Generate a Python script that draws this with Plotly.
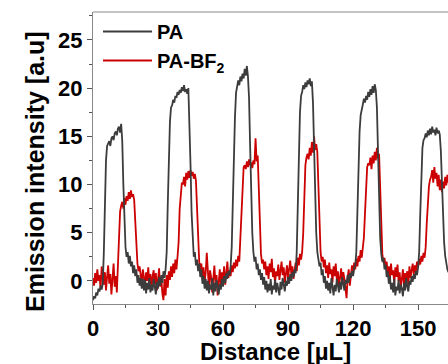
import numpy as np
import plotly.graph_objects as go

step = 0.5  # sampling interval of the traces (µL)

pa = [
    -2.0, -1.6, -1.8, -1.2, -1.5, -0.8, -1.1, -0.5, -0.9, -0.3,
    3, 8, 12.5, 14.0,
    14.2, 14.5, 14.0, 14.8, 15.0, 14.6, 15.3, 15.5, 15.1, 15.8, 16.0, 15.4, 16.3,
    14.5, 10, 6, 3.5, 2.5, 3.0, 1.8, 2.6, 1.5, 2.0, 0.8, 1.6, 0.5, 1.2, -0.2, 0.6, -0.5, 0.3, -0.8, 0.2,
    -1.0, 0.1, -1.3, -0.2, -0.9, 0.3, -1.2, -0.4, -1.0, 0.2, -0.6, -1.4, -0.1, -0.8, 0.4, -0.5, 0.6, -0.2, 1.0, 0.3,
    1.2, 3, 8, 13, 16.5, 18.0,
    18.2, 18.8, 18.5, 19.2, 19.0, 19.6, 19.3, 19.8, 19.5, 20.1, 19.7, 20.3, 19.6, 19.9, 19.4, 20.0,
    17, 12, 7, 4, 2.5, 3.0, 1.6, 2.2, 1.0, 1.8, 0.4, 1.2, -0.3, 0.5, -0.8, 0.2,
    -1.0, 0.0, -1.3, -0.4, -0.9, 0.3, -1.5, -0.2, -1.1, 0.1, -0.7, -1.4, -0.3, -0.9, 0.2, -0.6, 0.5, -0.2, 0.8, 0.2, 1.0, 0.6, 1.5,
    3.5, 8, 13, 17, 19.5,
    20.0, 20.8, 20.3, 21.2, 20.7, 21.5, 21.0, 22.0, 21.3, 22.3, 21.2,
    19, 14, 9, 5, 3, 2.0, 2.5, 1.2, 1.8, 0.6, 1.2, 0.1, 0.8, -0.4, 0.4, -0.9, 0.0,
    -1.2, -0.3, -1.0, 0.2, -1.4, -0.5, -0.9, 0.1, -1.2, -0.2, -0.8, -1.5, -0.1, -0.9, 0.3, -0.6, -1.1, 0.0, -0.5, 0.4,
    -0.3, 0.7, 0.0, 0.9, 0.4, 1.2, 0.8,
    3, 8, 13.5, 17.5, 19.2,
    19.6, 20.3, 19.9, 20.6, 20.1, 20.8, 20.4, 21.0, 20.2, 20.7,
    18.5, 14, 9, 5, 3, 2.2, 1.5, 1.9, 0.6, 1.2, -0.2, 0.5, -0.8, 0.0,
    -1.0, -0.2, -1.3, 0.3, -0.8, -1.5, -0.4, -1.1, 0.2, -0.7, -1.2, -0.1, -0.9, 0.4, -0.5, -1.0, 0.1, -0.3, 0.6, -0.2,
    0.8, 0.3, 1.0, 0.5, 1.3, 1.6,
    3, 7, 12, 15.5, 17.2, 18.0,
    18.3, 18.9, 18.5, 19.2, 18.8, 19.6, 19.1, 19.9, 19.3, 20.2, 19.5, 20.4, 19.8,
    18, 13, 8, 4.5, 2.8, 2.0, 2.4, 1.2, 1.7, 0.4, 1.0, -0.3, 0.5, -0.9,
    -0.2, -1.2, 0.2, -1.5, -0.6, -1.0, 0.1, -1.3, -0.4, -0.8, -1.6, -0.2, -1.0, 0.3, -0.6, -1.1, 0.0, -0.4, 0.5, -0.1,
    0.7, 0.2, 1.0, 0.6, 1.4,
    3, 7, 11, 13.8, 14.6,
    14.8, 15.3, 14.9, 15.6, 15.1, 15.8, 15.2, 16.0, 15.4, 15.7, 15.1, 15.9, 15.3, 15.6, 15.2,
    13.5, 10, 6.5, 4, 2.6, 1.8, 1.2, 0.9, 1.5, 0.6,
]

pa_bf2 = [
    0.3, -0.5, 0.8, -0.2, 1.2, 0.0, 0.6, -0.8, 1.5, 0.2, -0.4, 0.9, -1.0, 0.4, 1.6, -0.3, 0.7, -1.4, 0.2, 1.8, -0.6, 0.5, -1.2,
    2, 5, 7.2, 7.8,
    8.2, 7.5, 8.6, 7.9, 8.8, 8.3, 9.2, 8.5, 9.4, 8.7, 9.0, 8.4,
    6, 3, 1.8, 1.0, 1.5,
    0.6, -0.2, 1.2, 0.3, -0.5, 0.9, 0.0, 1.4, -0.3, 0.7, -0.8, 0.5, 1.1, -0.4, 0.8, -1.0, 0.3, 1.3, -0.6, 0.4,
    -1.3, -2.0, 0.2, -1.5, 0.6, -0.7, 1.0, 0.1, 1.5, 0.4, 1.8, 0.8, 2.2, 1.2, 2.5,
    4, 7.5, 9.5, 10.2,
    10.0, 10.8, 9.8, 11.2, 10.5, 11.4, 10.7, 11.5, 10.9, 11.3, 10.6, 11.1, 10.4,
    7, 3.5, 2.0, 1.2, 1.8,
    0.5, 1.4, -0.2, 0.9, 2.9, 0.1, -0.8, 1.1, 0.4, -1.2, 0.8, 1.6, -0.3, 0.6, -1.5, 0.2, 1.2, -0.6, 0.9, 0.0,
    1.5, -0.4, 0.7, 2.0, 0.3, 1.1, 0.5, 1.6, 0.9, 1.9, 1.3, 2.2, 1.5, 2.6, 2.0,
    4.5, 8.5, 11.0, 11.8,
    12.0, 11.6, 12.4, 11.8, 12.6, 12.0, 12.3, 11.7, 12.5, 12.1, 14.8, 12.4, 13.0,
    9, 5, 2.8, 1.8, 2.2,
    1.2, 2.0, 0.6, 1.5, 0.2, 1.8, 0.9, 2.3, 0.4, 1.3, -0.3, 1.0, 0.5, 1.7, 0.1, 1.2, 2.0, 0.6, 1.4, -0.2,
    0.8, 1.6, 0.3, 1.1, 2.1, 0.7, 1.5, 0.2, 1.3, 1.9, 1.0, 2.4, 1.6, 2.8, 2.2, 3.0,
    5, 9.5, 12.0, 12.8,
    13.2, 12.6, 13.8, 13.0, 14.4, 13.3, 15.0, 13.6, 14.2, 13.4,
    10, 5.5, 3.0, 2.0, 2.5,
    1.4, 2.2, 0.8, 1.6, 0.3, 1.9, 0.7, 1.2, -0.2, 1.5, 0.5, 1.8, 0.1, 1.0, -0.6, 0.8, 1.3, -0.3, 0.9, 0.2,
    -1.0, -1.8, 0.4, 1.2, -0.5, 0.8, 1.6, 0.6, 1.9, 1.2, 2.3, 1.5, 2.6, 2.0, 3.2, 2.4, 3.8, 4.5,
    7, 10, 11.8, 12.2,
    12.0, 12.8, 11.6, 13.0, 12.2, 13.4, 12.5, 13.8, 12.7, 13.2,
    9, 5, 2.8, 1.9, 2.4,
    1.3, 2.0, 0.7, 1.5, 0.2, 1.8, 0.6, 1.1, -0.3, 1.4, 0.4, 1.7, 0.0, 0.9, -0.8, 0.6, 1.2, -0.4, 0.8, 0.1,
    1.0, -0.5, 1.5, 0.3, 1.1, 1.8, 0.7, 1.6, 1.0, 2.0, 1.4, 2.3, 1.7, 2.6, 2.0, 2.9, 2.4, 3.5,
    6, 8.5, 9.8, 10.5,
    10.8, 11.5, 10.2, 11.8, 10.6, 11.2, 9.8, 11.0, 9.4, 10.5, 9.2, 10.3, 9.6, 10.8, 9.9, 11.0, 10.2, 10.7,
    9.5,
]

x_pa = np.arange(len(pa)) * step
x_bf = np.arange(len(pa_bf2)) * step

x_ticks = [0, 30, 60, 90, 120, 150]
y_ticks = [0, 5, 10, 15, 20, 25]

FONT = "Liberation Sans, Arial, sans-serif"

fig = go.Figure()
fig.add_trace(go.Scatter(x=x_bf, y=pa_bf2, mode="lines", name="<b>PA-BF<sub>2</sub></b>",
                         line=dict(color="#cc0000", width=1.8)))
fig.add_trace(go.Scatter(x=x_pa, y=pa, mode="lines", name="<b>PA</b>",
                         line=dict(color="#3c3c3c", width=1.8)))

fig.update_layout(
    width=448, height=364, autosize=False,
    margin=dict(l=93, r=0, t=12, b=60, autoexpand=False),
    paper_bgcolor="white", plot_bgcolor="white",
    font=dict(family=FONT, color="black"),
    showlegend=True,
    legend=dict(x=0.014, y=1.0, xanchor="left", yanchor="top",
                bgcolor="rgba(0,0,0,0)", font=dict(size=20, family=FONT),
                traceorder="reversed", tracegroupgap=0, itemwidth=49),
    xaxis=dict(range=[0, 163.8], tickvals=x_ticks, ticktext=[f"<b>{v}</b>" for v in x_ticks],
               ticks="outside", ticklen=5, tickcolor="#555", showline=True, linecolor="#888",
               linewidth=1, showgrid=False, zeroline=False, tickfont=dict(size=22),
               automargin=False,
               minor=dict(dtick=15, ticks="outside", ticklen=3, tickcolor="#555")),
    yaxis=dict(range=[-2.4, 27.9], tickvals=y_ticks, ticktext=[f"<b>{v}</b>" for v in y_ticks],
               ticks="outside", ticklen=5, tickcolor="#555", showline=True, linecolor="#888",
               linewidth=1, showgrid=False, zeroline=False, tickfont=dict(size=22),
               automargin=False,
               minor=dict(dtick=2.5, ticks="outside", ticklen=3, tickcolor="#555")),
)
# axis titles as annotations so they can sit where the reference puts them
fig.add_annotation(text="<b>Distance [µL]</b>", xref="paper", yref="paper",
                   x=0.5127, y=-0.163, xanchor="center", yanchor="middle",
                   showarrow=False, font=dict(size=24, family=FONT))
fig.add_annotation(text="<b>Emission intensity [a.u]</b>", xref="paper", yref="paper",
                   x=-0.1634, y=0.4555, xanchor="center", yanchor="middle", textangle=-90,
                   showarrow=False, font=dict(size=25, family=FONT))
fig.add_shape(type="line", xref="paper", yref="paper", x0=0, x1=1, y0=1, y1=1,
              line=dict(color="#888", width=1))

fig.write_html(
    "out.html",
    config={"displayModeBar": False, "responsive": False},
    post_script="document.body.style.margin='0';document.body.style.overflow='hidden';",
)
